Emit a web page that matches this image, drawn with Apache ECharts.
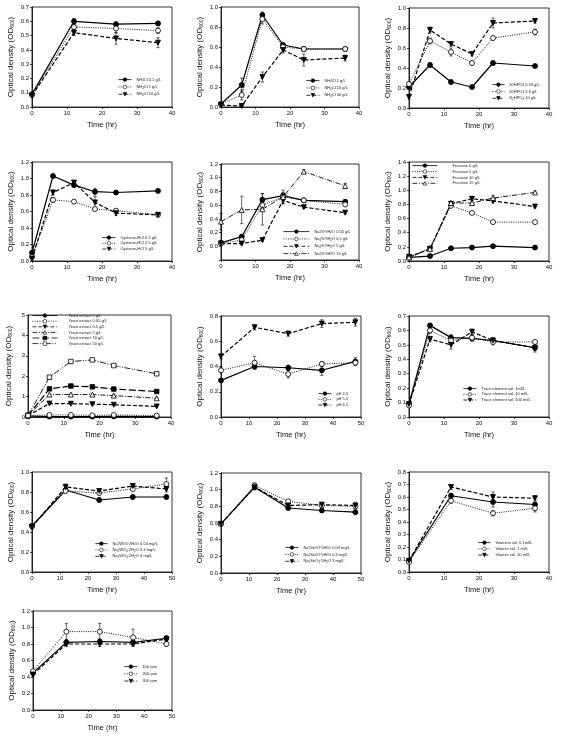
<!DOCTYPE html>
<html><head><meta charset="utf-8">
<script src="https://cdn.jsdelivr.net/npm/echarts@6/dist/echarts.min.js"></script>
<style>html,body{margin:0;padding:0;background:#fff}#c{width:562px;height:756px}</style>
</head><body><div id="c"></div><script>
// ---------- time points ----------
const timeA = [0, 12, 24, 36];
const timeB = [0, 6, 12, 18, 24, 36];
const timeC = [0, 12, 24, 36, 48];

// ---------- panel 1: NH4Cl (0.1, 1, 10 g/L) ----------
const p1_s1 = [0.09, 0.60, 0.58, 0.585], p1_e1 = [0.01, 0.02, 0.015, 0.015];
const p1_s2 = [0.085, 0.56, 0.55, 0.535], p1_e2 = [0.01, 0.02, 0.03, 0.02];
const p1_s3 = [0.08, 0.52, 0.48, 0.45],  p1_e3 = [0.01, 0.02, 0.04, 0.035];
// ---------- panel 2: NH4Cl (1, 10, 30 g/L) ----------
const p2_s1 = [0.03, 0.22, 0.92, 0.62, 0.58, 0.58], p2_e1 = [0.01, 0.07, 0.03, 0.02, 0.02, 0.01];
const p2_s2 = [0.03, 0.12, 0.88, 0.60, 0.58, 0.58], p2_e2 = [0.01, 0.05, 0.05, 0.03, 0.02, 0.01];
const p2_s3 = [0.02, 0.01, 0.30, 0.57, 0.47, 0.49], p2_e3 = [0.01, 0.01, 0.05, 0.03, 0.06, 0.03];
// ---------- panel 3: K2HPO4 ----------
const p3_s1 = [0.21, 0.43, 0.26, 0.21, 0.45, 0.42], p3_e1 = [0.02, 0.02, 0.02, 0.01, 0.02, 0.01];
const p3_s2 = [0.24, 0.67, 0.56, 0.45, 0.70, 0.76], p3_e2 = [0.02, 0.03, 0.04, 0.02, 0.02, 0.03];
const p3_s3 = [0.11, 0.78, 0.64, 0.54, 0.85, 0.87], p3_e3 = [0.02, 0.03, 0.02, 0.02, 0.05, 0.02];
// ---------- panel 4: Cysteine-HCl ----------
const p4_s1 = [0.10, 1.03, 0.92, 0.84, 0.83, 0.85], p4_e1 = [0.02, 0.02, 0.03, 0.04, 0.02, 0.02];
const p4_s2 = [0.05, 0.74, 0.72, 0.63, 0.61, 0.56], p4_e2 = [0.02, 0.03, 0.02, 0.02, 0.02, 0.02];
const p4_s3 = [0.03, 0.83, 0.95, 0.71, 0.58, 0.56], p4_e3 = [0.02, 0.03, 0.03, 0.07, 0.03, 0.02];
// ---------- panel 5: Na2S·9H2O ----------
const p5_s1 = [0.05, 0.14, 0.68, 0.74, 0.67, 0.65], p5_e1 = [0.02, 0.03, 0.09, 0.04, 0.03, 0.03];
const p5_s2 = [0.04, 0.09, 0.60, 0.72, 0.67, 0.61], p5_e2 = [0.02, 0.05, 0.04, 0.05, 0.02, 0.03];
const p5_s3 = [0.04, 0.04, 0.09, 0.67, 0.57, 0.49], p5_e3 = [0.02, 0.02, 0.02, 0.05, 0.02, 0.02];
const p5_s4 = [0.36, 0.53, 0.54, 0.72, 1.09, 0.88], p5_e4 = [0.12, 0.20, 0.23, 0.10, 0.03, 0.04];
// ---------- panel 6: Fructose ----------
const p6_s1 = [0.05, 0.07, 0.18, 0.19, 0.21, 0.19], p6_e1 = [0.01, 0.01, 0.02, 0.02, 0.02, 0.02];
const p6_s2 = [0.05, 0.18, 0.78, 0.68, 0.55, 0.55], p6_e2 = [0.01, 0.02, 0.02, 0.02, 0.02, 0.02];
const p6_s3 = [0.06, 0.17, 0.81, 0.88, 0.85, 0.77], p6_e3 = [0.01, 0.02, 0.02, 0.03, 0.03, 0.02];
const p6_s4 = [0.05, 0.17, 0.82, 0.82, 0.89, 0.97], p6_e4 = [0.01, 0.02, 0.02, 0.03, 0.04, 0.02];
// ---------- panel 7: Yeast extract ----------
const p7_s1 = [0.05, 0.02, 0.02, 0.02, 0.03, 0.02], p7_e1 = [0, 0, 0, 0, 0, 0];
const p7_s2 = [0.07, 0.10, 0.10, 0.08, 0.10, 0.07], p7_e2 = [0, 0.02, 0.02, 0.02, 0.02, 0.02];
const p7_s3 = [0.07, 0.66, 0.65, 0.63, 0.60, 0.52], p7_e3 = [0, 0.03, 0.03, 0.03, 0.03, 0.03];
const p7_s4 = [0.07, 1.10, 1.10, 1.10, 1.05, 0.92], p7_e4 = [0, 0.04, 0.04, 0.04, 0.04, 0.04];
const p7_s5 = [0.07, 1.38, 1.52, 1.48, 1.37, 1.25], p7_e5 = [0, 0.04, 0.05, 0.05, 0.04, 0.04];
const p7_s6 = [0.07, 1.95, 2.72, 2.80, 2.52, 2.12], p7_e6 = [0, 0.05, 0.06, 0.06, 0.05, 0.05];
// ---------- panel 8: pH ----------
const p8_s1 = [0.29, 0.40, 0.39, 0.37, 0.44], p8_e1 = [0.01, 0.02, 0.02, 0.04, 0.03];
const p8_s2 = [0.37, 0.43, 0.34, 0.42, 0.43], p8_e2 = [0.02, 0.05, 0.03, 0.02, 0.02];
const p8_s3 = [0.48, 0.71, 0.66, 0.74, 0.75], p8_e3 = [0.02, 0.02, 0.02, 0.03, 0.03];
// ---------- panel 9: Trace element sol. ----------
const p9_s1 = [0.09, 0.635, 0.55, 0.545, 0.53, 0.48], p9_e1 = [0.01, 0.01, 0.02, 0.02, 0.02, 0.02];
const p9_s2 = [0.08, 0.60, 0.53, 0.55, 0.52, 0.52],  p9_e2 = [0.01, 0.02, 0.02, 0.02, 0.02, 0.01];
const p9_s3 = [0.09, 0.54, 0.50, 0.59, 0.53, 0.48],  p9_e3 = [0.01, 0.02, 0.03, 0.02, 0.02, 0.03];
// ---------- panel 10: Na2WO4·2H2O ----------
const p10_s1 = [0.46, 0.82, 0.72, 0.75, 0.75], p10_e1 = [0.02, 0.02, 0.02, 0.02, 0.02];
const p10_s2 = [0.46, 0.81, 0.79, 0.83, 0.88], p10_e2 = [0.02, 0.02, 0.02, 0.02, 0.06];
const p10_s3 = [0.45, 0.85, 0.81, 0.86, 0.83], p10_e3 = [0.02, 0.03, 0.02, 0.02, 0.03];
// ---------- panel 11: Na2SeO3·5H2O ----------
const p11_s1 = [0.59, 1.03, 0.78, 0.75, 0.73], p11_e1 = [0.02, 0.03, 0.02, 0.02, 0.02];
const p11_s2 = [0.59, 1.05, 0.86, 0.81, 0.80], p11_e2 = [0.02, 0.03, 0.02, 0.02, 0.03];
const p11_s3 = [0.59, 1.03, 0.81, 0.82, 0.81], p11_e3 = [0.02, 0.03, 0.02, 0.02, 0.04];
// ---------- panel 12: Vitamin sol. ----------
const p12_s1 = [0.09, 0.61, 0.56, 0.54], p12_e1 = [0.01, 0.02, 0.04, 0.02];
const p12_s2 = [0.08, 0.57, 0.47, 0.51], p12_e2 = [0.01, 0.02, 0.02, 0.03];
const p12_s3 = [0.09, 0.68, 0.60, 0.59], p12_e3 = [0.01, 0.02, 0.04, 0.02];
// ---------- panel 13: agitation ----------
const p13_s1 = [0.45, 0.82, 0.83, 0.82, 0.87], p13_e1 = [0.02, 0.03, 0.03, 0.03, 0.03];
const p13_s2 = [0.47, 0.95, 0.95, 0.88, 0.80], p13_e2 = [0.02, 0.10, 0.10, 0.10, 0.03];
const p13_s3 = [0.43, 0.80, 0.80, 0.80, 0.86], p13_e3 = [0.02, 0.03, 0.03, 0.03, 0.03];

// ---------- panel layout ----------
const panels = [
 {g:[32,7,140,100], x:timeA, xMax:40, yMin:0, yMax:0.7, yInt:0.1, dec:1, leg:[118,77.5,3], lw:13,
  s:[['NH{s|4}Cl 0.1 g/L',p1_s1,p1_e1],['NH{s|4}Cl 1 g/L',p1_s2,p1_e2],['NH{s|4}Cl 10 g/L',p1_s3,p1_e3]]},
 {g:[221,7,138,100], x:timeB, xMax:40, yMin:0, yMax:1.0, yInt:0.2, dec:1, leg:[306,78.5,3], lw:13,
  s:[['NH{s|4}Cl 1 g/L',p2_s1,p2_e1],['NH{s|4}Cl 10 g/L',p2_s2,p2_e2],['NH{s|4}Cl 30 g/L',p2_s3,p2_e3]]},
 {g:[409,8,140,100], x:timeB, xMax:40, yMin:0, yMax:1.0, yInt:0.2, dec:1, leg:[492,82.5,2.5], lw:12,
  s:[['K{s|2}HPO{s|4} 0.33 g/L',p3_s1,p3_e1],['K{s|2}HPO{s|4} 3.3 g/L',p3_s2,p3_e2],['K{s|2}HPO{s|4} 10 g/L',p3_s3,p3_e3]]},
 {g:[32,162,140,99], x:timeB, xMax:40, yMin:0, yMax:1.2, yInt:0.2, dec:1, leg:[102,235.5,1.5], lw:13,
  s:[['Cysteine-HCl 0.5 g/L',p4_s1,p4_e1],['Cysteine-HCl 2.5 g/L',p4_s2,p4_e2],['Cysteine-HCl 5 g/L',p4_s3,p4_e3]]},
 {g:[221,164,138,96], x:timeB, xMax:40, yMin:-0.2, yMax:1.2, yInt:0.2, dec:1, leg:[283,229.5,3], lw:26,
  s:[['Na{s|2}S·9H{s|2}O 0.05 g/L',p5_s1,p5_e1],['Na{s|2}S·9H{s|2}O 0.5 g/L',p5_s2,p5_e2],['Na{s|2}S·9H{s|2}O 5 g/L',p5_s3,p5_e3],['Na{s|2}S·9H{s|2}O 15 g/L',p5_s4,p5_e4]]},
 {g:[409,162,140,99], x:timeB, xMax:40, yMin:0, yMax:1.4, yInt:0.2, dec:1, leg:[412,163.5,1.7], lw:25, tp:10,
  s:[['Fructose 0 g/L',p6_s1,p6_e1],['Fructose 5 g/L',p6_s2,p6_e2],['Fructose 10 g/L',p6_s3,p6_e3],['Fructose 15 g/L',p6_s4,p6_e4]]},
 {g:[28,315,143,102], x:timeB, xMax:40, yMin:0, yMax:5, yInt:1, dec:0, leg:[32,313.5,1.4], lw:25, tp:6, ng:15,
  s:[['Yeast extract 0 g/L',p7_s1,p7_e1],['Yeast extract 0.05 g/L',p7_s2,p7_e2],['Yeast extract 0.5 g/L',p7_s3,p7_e3],['Yeast extract 5 g/L',p7_s4,p7_e4],['Yeast extract 10 g/L',p7_s5,p7_e5],['Yeast extract 50 g/L',p7_s6,p7_e6]]},
 {g:[221,316,140,101], x:timeC, xMax:50, yMin:0, yMax:0.8, yInt:0.2, dec:1, leg:[318,391.5,1.5], lw:13,
  s:[['pH 4.5',p8_s1,p8_e1],['pH 5.5',p8_s2,p8_e2],['pH 6.5',p8_s3,p8_e3]]},
 {g:[409,316,140,101], x:timeB, xMax:40, yMin:0, yMax:0.7, yInt:0.1, dec:1, leg:[463,386.5,1.5], lw:13,
  s:[['Trace element sol. 1ml/L',p9_s1,p9_e1],['Trace element sol. 10 ml/L',p9_s2,p9_e2],['Trace element sol. 100 ml/L',p9_s3,p9_e3]]},
 {g:[32,472,140,100], x:timeC, xMax:50, yMin:0, yMax:1.0, yInt:0.2, dec:1, leg:[95,541.5,2], lw:12,
  s:[['Na{s|2}WO{s|4}·2H{s|2}O 0.04 mg/L',p10_s1,p10_e1],['Na{s|2}WO{s|4}·2H{s|2}O 0.4 mg/L',p10_s2,p10_e2],['Na{s|2}WO{s|4}·2H{s|2}O 4 mg/L',p10_s3,p10_e3]]},
 {g:[221,473,140,100], x:timeC, xMax:50, yMin:0, yMax:1.2, yInt:0.2, dec:1, leg:[285,545.5,2.5], lw:13,
  s:[['Na{s|2}SeO{s|3}·5H{s|2}O 0.03 mg/L',p11_s1,p11_e1],['Na{s|2}SeO{s|3}·5H{s|2}O 0.3 mg/L',p11_s2,p11_e2],['Na{s|2}SeO{s|3}·5H{s|2}O 3 mg/L',p11_s3,p11_e3]]},
 {g:[409,472,140,100], x:timeA, xMax:40, yMin:0, yMax:0.8, yInt:0.1, dec:1, leg:[478,540.5,2], lw:12,
  s:[['Vitamins sol. 0.1ml/L',p12_s1,p12_e1],['Vitamin sol. 1 ml/L',p12_s2,p12_e2],['Vitamin sol. 10 ml/L',p12_s3,p12_e3]]},
 {g:[33,611,139,99], x:timeC, xMax:50, yMin:0, yMax:1.2, yInt:0.2, dec:1, leg:[124,664.5,3], lw:13,
  s:[['100 rpm',p13_s1,p13_e1],['200 rpm',p13_s2,p13_e2],['300 rpm',p13_s3,p13_e3]]}
];

// series styles (marker / line) by order within a panel
const styles = [
 {sym:'circle',  rot:0,   fill:true,  type:'solid',          w:1.2},
 {sym:'circle',  rot:0,   fill:false, type:[1,1.3],          w:0.9},
 {sym:'triangle',rot:180, fill:true,  type:[4,2],            w:1.2},
 {sym:'triangle',rot:0,   fill:false, type:[5,1.5,1,1.5],    w:0.9},
 {sym:'rect',    rot:0,   fill:true,  type:[7,2.5],          w:1.2},
 {sym:'rect',    rot:0,   fill:false, type:[6,1.5,1,1.5,1,1.5], w:0.9}
];

const labelMap = {};
const grid = [], xAxis = [], yAxis = [], series = [], legend = [];
const font = 'Liberation Sans, Arial, sans-serif';

function errRender(params, api) {
  const x = api.value(0), y = api.value(1), e = api.value(2);
  if (!e) return;
  const t = api.coord([x, y + e]), b = api.coord([x, y - e]);
  const c = 1.6, st = {stroke:'#000', lineWidth:0.6};
  return {type:'group', children:[
    {type:'line', shape:{x1:t[0], y1:t[1], x2:b[0], y2:b[1]}, style:st},
    {type:'line', shape:{x1:t[0]-c, y1:t[1], x2:t[0]+c, y2:t[1]}, style:st},
    {type:'line', shape:{x1:b[0]-c, y1:b[1], x2:b[0]+c, y2:b[1]}, style:st}
  ]};
}

panels.forEach((p, i) => {
  grid.push({left:p.g[0], top:p.g[1], width:p.g[2], height:p.g[3], show:true,
             borderColor:'#000', borderWidth:0.8, backgroundColor:'transparent'});
  xAxis.push({type:'value', gridIndex:i, min:0, max:p.xMax, interval:10,
    axisLine:{show:true, onZero:false, lineStyle:{color:'#000', width:0.8}},
    axisTick:{show:true, length:2, lineStyle:{color:'#000', width:0.7}},
    axisLabel:{fontSize:6, color:'#111', margin:3, fontFamily:font},
    splitLine:{show:false},
    name:'Time (hr)', nameLocation:'middle', nameGap:14,
    nameTextStyle:{fontSize:7.5, color:'#111', fontFamily:font}});
  yAxis.push({type:'value', gridIndex:i, min:p.yMin, max:p.yMax, interval:p.yInt,
    axisLine:{show:true, onZero:false, lineStyle:{color:'#000', width:0.8}},
    axisTick:{show:true, length:2, lineStyle:{color:'#000', width:0.7}},
    axisLabel:{fontSize:6, color:'#111', margin:3, fontFamily:font,
      formatter: v => v < -1e-9 ? '' : v.toFixed(p.dec)},
    splitLine:{show:false},
    name:'Optical density (OD{s|600})', nameLocation:'middle', nameGap:p.ng || 17,
    nameTextStyle:{fontSize:8, color:'#111', fontFamily:font,
      rich:{s:{fontSize:5, color:'#111', fontFamily:font, padding:[3,0,0,0], verticalAlign:'bottom'}}}});
  const names = [];
  p.s.forEach((s, j) => {
    const st = styles[j];
    const nm = 'P' + i + '_' + j;
    labelMap[nm] = s[0];
    names.push(nm);
    series.push({type:'custom', xAxisIndex:i, yAxisIndex:i, z:1, silent:true,
      renderItem:errRender, encode:{x:0, y:1},
      data:p.x.map((t, k) => [t, s[1][k], s[2][k]])});
    series.push({type:'line', name:nm, xAxisIndex:i, yAxisIndex:i, z:3,
      data:p.x.map((t, k) => [t, s[1][k]]),
      symbol:st.sym, symbolRotate:st.rot, symbolSize: st.sym === 'rect' ? 4.5 : 5, showAllSymbol:true,
      lineStyle:{color:'#000', width:st.w, type:st.type},
      itemStyle:{color: st.fill ? '#000' : '#fff', borderColor:'#000', borderWidth:0.8},
      clip:false});
  });
  legend.push({orient:'vertical', left:p.leg[0], top:p.leg[1], itemGap:p.leg[2],
    itemWidth:p.lw, itemHeight:4.5, padding:0, data:names, selectedMode:false,
    itemStyle:{borderWidth:0.6},
    lineStyle:{width:0.8},
    formatter: n => labelMap[n],
    textStyle:{fontSize:4, color:'#222', fontFamily:font, padding:[0,0,0,p.tp || 0],
      rich:{s:{fontSize:3, color:'#222', fontFamily:font, padding:[1.5,0,0,0], verticalAlign:'bottom'}}}});
});

const chart = echarts.init(document.getElementById('c'), null, {renderer:'canvas'});
chart.setOption({animation:false, backgroundColor:'#fff', grid, xAxis, yAxis, series, legend});
</script></body></html>
